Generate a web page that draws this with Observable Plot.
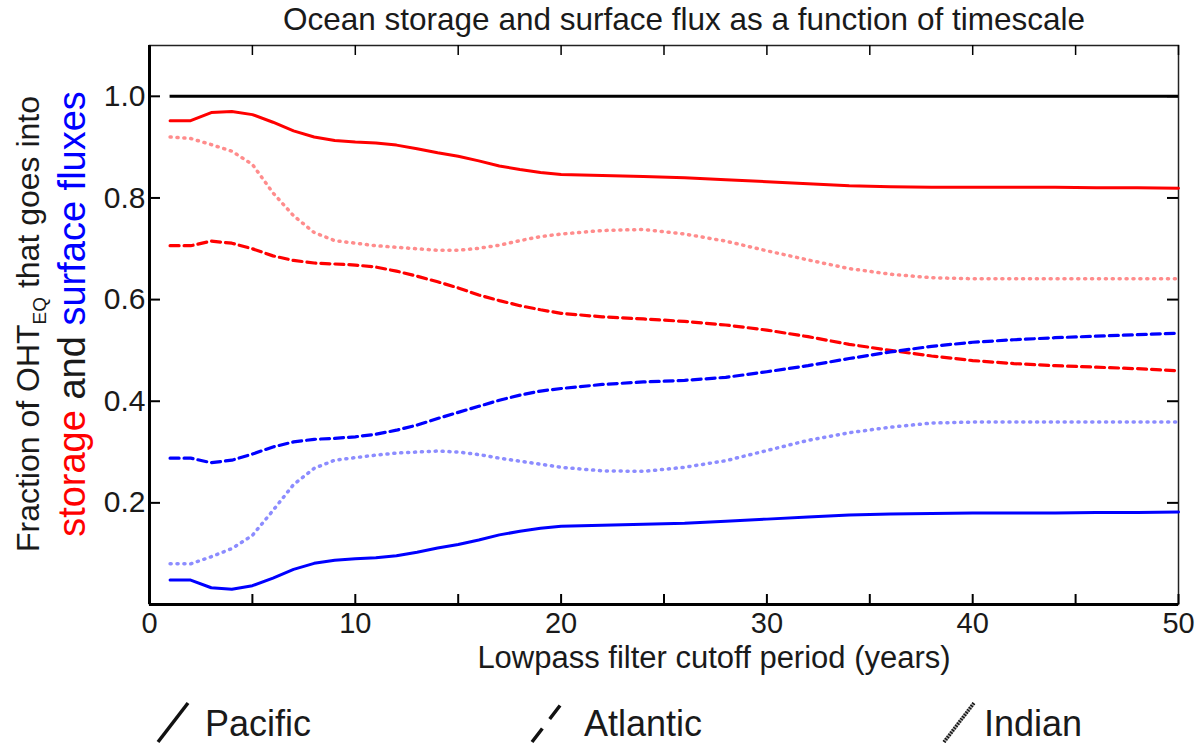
<!DOCTYPE html>
<html><head><meta charset="utf-8">
<script src="https://cdn.jsdelivr.net/npm/d3@7"></script>
<script src="https://cdn.jsdelivr.net/npm/@observablehq/plot@0.6"></script>
<style>body{margin:0;background:#fff} #chart svg{display:block}</style>
</head><body><div id="chart"></div>
<script>
// ---------- data ----------
const periods = [1,2,3,4,5,6,7,8,9,10,11,12,13,14,15,16,17,18,19,20,22,24,26,28,30,32,34,36,38,40,42,44,46,48,50];
const pacificStorage  = [0.952,0.952,0.968,0.970,0.964,0.949,0.932,0.920,0.913,0.910,0.908,0.904,0.897,0.889,0.882,0.873,0.863,0.856,0.850,0.846,0.844,0.842,0.840,0.836,0.832,0.828,0.824,0.822,0.821,0.821,0.821,0.821,0.820,0.820,0.819];
const pacificFlux     = [0.048,0.048,0.033,0.030,0.037,0.052,0.069,0.081,0.087,0.090,0.092,0.096,0.103,0.111,0.118,0.127,0.137,0.144,0.150,0.154,0.156,0.158,0.160,0.164,0.168,0.172,0.176,0.178,0.179,0.180,0.180,0.180,0.181,0.181,0.182];
const atlanticStorage = [0.706,0.706,0.715,0.711,0.700,0.686,0.677,0.672,0.670,0.668,0.664,0.656,0.646,0.635,0.623,0.609,0.598,0.588,0.580,0.573,0.566,0.562,0.557,0.550,0.540,0.527,0.512,0.500,0.489,0.480,0.474,0.470,0.467,0.464,0.460];
const atlanticFlux    = [0.288,0.288,0.279,0.284,0.296,0.310,0.320,0.325,0.327,0.330,0.335,0.343,0.353,0.366,0.378,0.390,0.402,0.412,0.420,0.425,0.433,0.438,0.441,0.447,0.458,0.470,0.484,0.497,0.508,0.516,0.521,0.525,0.528,0.531,0.534];
const indianStorage   = [0.920,0.917,0.905,0.892,0.866,0.810,0.765,0.732,0.716,0.711,0.706,0.703,0.700,0.697,0.697,0.701,0.707,0.716,0.724,0.729,0.736,0.738,0.729,0.715,0.696,0.678,0.661,0.650,0.643,0.641,0.641,0.641,0.641,0.641,0.641];
const indianFlux      = [0.080,0.080,0.094,0.110,0.136,0.185,0.236,0.268,0.284,0.289,0.294,0.298,0.300,0.302,0.300,0.295,0.288,0.282,0.276,0.270,0.263,0.262,0.270,0.283,0.303,0.323,0.338,0.349,0.357,0.359,0.359,0.359,0.359,0.359,0.359];
const totalFraction = 1.0;

const xTicks = [0,10,20,30,40,50];
const xTickLabels = ["0","10","20","30","40","50"];
const xMinorTicks = [0,5,10,15,20,25,30,35,40,45,50];
const yTicks = [0.2,0.4,0.6,0.8,1.0];
const yTickLabels = ["0.2","0.4","0.6","0.8","1.0"];
const basins = ["Pacific","Atlantic","Indian"];

// ---------- table ----------
const series = [
  {basin:"Pacific",  kind:"storage", values: pacificStorage},
  {basin:"Pacific",  kind:"flux",    values: pacificFlux},
  {basin:"Atlantic", kind:"storage", values: atlanticStorage},
  {basin:"Atlantic", kind:"flux",    values: atlanticFlux},
  {basin:"Indian",   kind:"storage", values: indianStorage},
  {basin:"Indian",   kind:"flux",    values: indianFlux}
];
const colorOf = {storage:"#ff0000", flux:"#0000ff"};
const styleOf = {
  Pacific:  {strokeWidth: 3,   strokeDasharray: null,      strokeOpacity: 1},
  Atlantic: {strokeWidth: 3.2, strokeDasharray: "9,5",     strokeOpacity: 1},
  Indian:   {strokeWidth: 3.5, strokeDasharray: "1.1,5.8", strokeOpacity: 0.45}
};

const W = 1200, H = 746;
const mL = 149, mR = 22, mT = 45, mB = 142;
const plotW = W - mL - mR, plotH = H - mT - mB;
const FONT = "'Liberation Sans', Arial, Helvetica, sans-serif";
const INK = "#1a1a1a";

const lineMarks = series.map(s => {
  const rows = s.values.map((v, i) => ({x: periods[i], y: v}));
  const st = styleOf[s.basin];
  return Plot.line(rows, {x: "x", y: "y", stroke: colorOf[s.kind], strokeWidth: st.strokeWidth,
    strokeDasharray: st.strokeDasharray, strokeOpacity: st.strokeOpacity, strokeLinejoin: "round"});
});

const chart = Plot.plot({
  width: W, height: H,
  marginLeft: mL, marginRight: mR, marginTop: mT, marginBottom: mB,
  x: {domain: [0, 50], label: null},
  y: {domain: [0, 1.1], label: null},
  style: {fontFamily: FONT, color: INK, background: "#fff"},
  marks: [
    Plot.frame({stroke: "#222", strokeWidth: 1.5}),
    Plot.ruleX([0], {stroke: "#000", strokeWidth: 3}),
    Plot.ruleY([0], {stroke: "#000", strokeWidth: 3}),
    Plot.tickY(yTicks, {y: d => d, insetRight: plotW - 11, stroke: "#000", strokeWidth: 2}),
    Plot.tickY(yTicks, {y: d => d, insetLeft: plotW - 11, stroke: "#000", strokeWidth: 2}),
    Plot.tickX(xMinorTicks, {x: d => d, insetTop: plotH - 10, stroke: "#000", strokeWidth: 2}),
    Plot.tickX(xMinorTicks, {x: d => d, insetBottom: plotH - 10, stroke: "#000", strokeWidth: 1.5}),
    Plot.axisY(yTicks, {tickSize: 0, tickPadding: 4, fontSize: 30, label: null,
      tickFormat: d => yTickLabels[yTicks.indexOf(d)]}),
    Plot.axisX(xTicks, {tickSize: 0, tickPadding: 8, fontSize: 29, label: null,
      tickFormat: d => xTickLabels[xTicks.indexOf(d)]}),
    Plot.ruleY([totalFraction], {x1: periods[0], x2: periods[periods.length - 1], stroke: "#000", strokeWidth: 3}),
    ...lineMarks
  ]
});
document.getElementById("chart").appendChild(chart);

// ---------- annotations ----------
const svg = d3.select(chart);
svg.append("text").attr("x", 684).attr("y", 30).attr("text-anchor", "middle")
  .attr("font-size", 31.5).attr("fill", INK).attr("font-family", FONT)
  .text("Ocean storage and surface flux as a function of timescale");

svg.append("text").attr("x", 714).attr("y", 668).attr("text-anchor", "middle")
  .attr("font-size", 31).attr("fill", INK).attr("font-family", FONT)
  .text("Lowpass filter cutoff period (years)");

const yl1 = svg.append("text").attr("transform", "translate(39,324) rotate(-90)")
  .attr("text-anchor", "middle").attr("font-size", 32).attr("fill", INK).attr("font-family", FONT);
yl1.append("tspan").text("Fraction of OHT");
yl1.append("tspan").attr("font-size", 19).attr("dy", 7).text("EQ");
yl1.append("tspan").attr("dy", -7).text(" that goes into");

const yl2 = svg.append("text").attr("transform", "translate(85,314) rotate(-90)")
  .attr("text-anchor", "middle").attr("font-size", 38).attr("font-family", FONT);
yl2.append("tspan").attr("fill", "#ff0000").text("storage");
yl2.append("tspan").attr("fill", INK).text(" and ");
yl2.append("tspan").attr("fill", "#0000ff").text("surface fluxes");

// ---------- legend ----------
const legendItems = [
  {name: basins[0], gx: 158, tx: 205, dash: null},
  {name: basins[1], gx: 532, tx: 584, dash: "17,12"},
  {name: basins[2], gx: 944, tx: 984, dash: "1.4,1.4"}
];
const lg = svg.append("g");
legendItems.forEach(it => {
  if (it.name === "Indian") {
    lg.append("line").attr("x1", it.gx).attr("y1", 742).attr("x2", it.gx + 30).attr("y2", 703)
      .attr("stroke", "#aaa").attr("stroke-width", 3.5);
  }
  lg.append("line").attr("x1", it.gx).attr("y1", 742).attr("x2", it.gx + 30).attr("y2", 703)
    .attr("stroke", "#111").attr("stroke-width", 3.5).attr("stroke-dasharray", it.dash);
  lg.append("text").attr("x", it.tx).attr("y", 736).attr("font-size", 36).attr("text-anchor", "start")
    .attr("fill", INK).attr("font-family", FONT).text(it.name);
});
</script></body></html>
